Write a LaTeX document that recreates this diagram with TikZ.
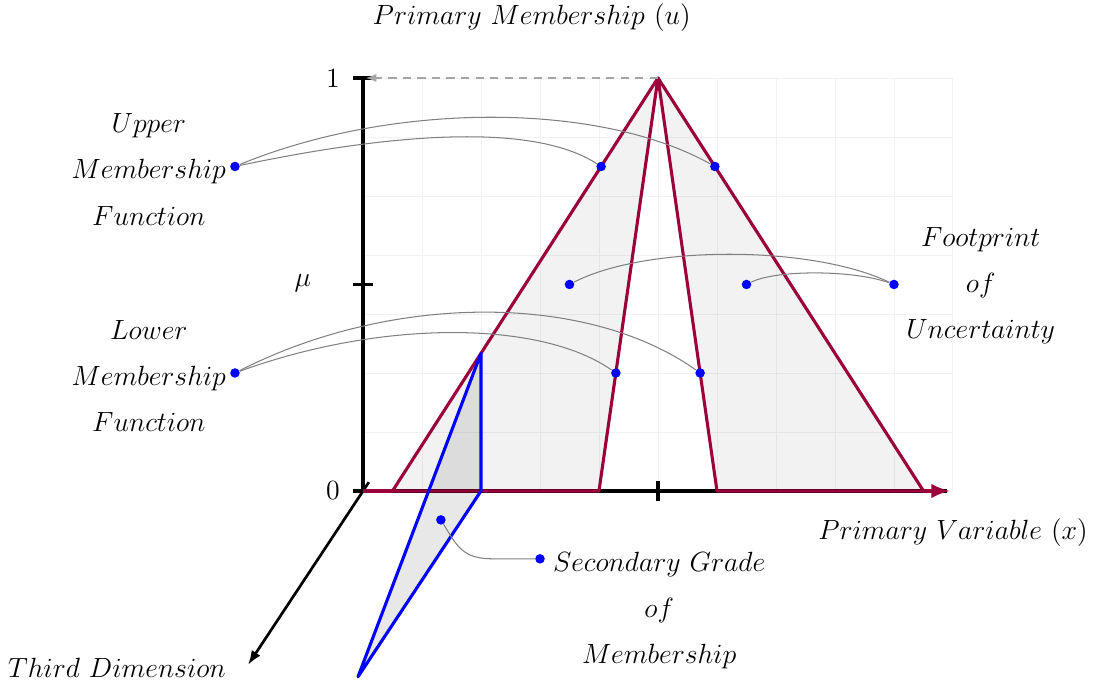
\documentclass[tikz,border=0pt]{standalone}
\usetikzlibrary{arrows.meta}
\definecolor{mfred}{RGB}{155,0,58}
\tikzset{
  lbl/.style={font=\fontsize{12}{19.9}\selectfont, align=center, inner sep=0pt, scale=1.117},
  dotn/.style={circle, fill=blue, inner sep=0pt, minimum size=4.6pt},
  conn/.style={gray, line width=0.5pt},
  mfline/.style={mfred, line width=1.5pt, line join=round},
  axisline/.style={black, line width=1.5pt},
}
\begin{document}
\begin{tikzpicture}
\useasboundingbox (-6.153,-3.356) rectangle (12.492,8.322);
% grid
\draw[black!5, line width=0.45pt] (0,0) grid (10,7);
% FOU fill
\fill[black, fill opacity=0.05] (0.5,0) -- (5,7) -- (4,0) -- cycle;
\fill[black, fill opacity=0.05] (5,7) -- (9.5,0) -- (6,0) -- cycle;
% ticks and axes
\draw[axisline] (-0.17,0) -- (0.17,0);
\draw[axisline] (-0.17,7) -- (0.17,7);
\draw[axisline] (-0.17,3.5) -- (0.17,3.5);
\draw[axisline] (0,0) -- (0,7);
\coordinate (xo) at (0,0);
\coordinate (xe) at (9.9,0);
\draw[axisline] (xo) -- (xe);
\coordinate (tdstart) at (0.1,0.15);
\coordinate (tdend) at (-1.95,-2.95);
\draw[axisline, line width=1.3pt, -{Latex[length=7pt,width=5pt]}] (tdstart) -- (tdend);
% membership functions (FOU outline)
\draw[mfline] (0.5,0) -- (5,7) -- (4,0) -- cycle;
\draw[mfline] (5,7) -- (9.5,0) -- (6,0) -- cycle;
\coordinate (xa) at (0,0);
\coordinate (xb) at (0.5,0);
\draw[mfline] (xa) -- (xb);
\coordinate (xc) at (9.5,0);
\coordinate (xd) at (9.95,0);
\draw[mfline, -{Latex[length=9pt,width=7pt]}] (xc) -- (xd);
\draw[axisline] (5,-0.17) -- (5,0.17);
% dashed arrow
\coordinate (peak) at (5,7);
\coordinate (one) at (0.05,7);
\draw[gray!70, line width=0.7pt, dash pattern=on 4pt off 3pt, -{Latex[length=5pt,width=4pt]}] (peak) -- (one);
% secondary membership triangle
\draw[blue, line width=1.5pt, line join=round, fill=black, fill opacity=0.09] (2,2.333) -- (2,0) -- (-0.085,-3.15) -- cycle;
% axis labels
\node[lbl] (pm) at (2.86,8.02) {$Primary\ Membership\ (u)$};
\node[lbl] (pv) at (10.0,-0.71) {$Primary\ Variable\ (x)$};
\node[lbl] (td) at (-4.17,-3.0) {$Third\ Dimension$};
\node[lbl] (zero) at (-0.51,0) {0};
\node[lbl] (onel) at (-0.51,7) {1};
\node[lbl] (mu) at (-1.02,3.52) {$\mu$};
% labels
\node[lbl] (umf) at (-3.63,5.45) {$Upper$\\$Membership$\\$Function$};
\node[lbl] (lmf) at (-3.63,1.95) {$Lower$\\$Membership$\\$Function$};
\node[lbl] (fou) at (10.47,3.48) {$Footprint$\\$of$\\$Uncertainty$};
\node[lbl] (sgm) at (5.02,-2.02) {$Secondary\ Grade$\\$of$\\$Membership$};
% dots
\node[dotn] (umfd) at (-2.17,5.5) {};
\node[dotn] (lmfd) at (-2.17,2) {};
\node[dotn] (foud) at (9,3.5) {};
\node[dotn] (sgmd) at (3,-1.15) {};
\node[dotn] (u1) at (4.036,5.5) {};
\node[dotn] (u2) at (5.964,5.5) {};
\node[dotn] (l1) at (4.286,2) {};
\node[dotn] (l2) at (5.714,2) {};
\node[dotn] (f1) at (3.5,3.5) {};
\node[dotn] (f2) at (6.5,3.5) {};
\node[dotn] (s1) at (1.32,-0.49) {};
% connectors
\draw[conn] (umfd) .. controls (0.2,6.0) and (2.8,6.3) .. (u1);
\draw[conn] (umfd) .. controls (0.5,6.6) and (4.0,6.6) .. (u2);
\draw[conn] (lmfd) .. controls (0.3,2.9) and (3.0,2.9) .. (l1);
\draw[conn] (lmfd) .. controls (0.5,3.36) and (3.8,3.36) .. (l2);
\draw[conn] (foud) .. controls (8.3,3.75) and (7.0,3.75) .. (f2);
\draw[conn] (foud) .. controls (7.6,4.17) and (4.8,4.17) .. (f1);
\draw[conn] (s1) .. controls (1.6,-0.95) and (1.7,-1.15) .. (2.2,-1.15) -- (sgmd);
\end{tikzpicture}
\end{document}
